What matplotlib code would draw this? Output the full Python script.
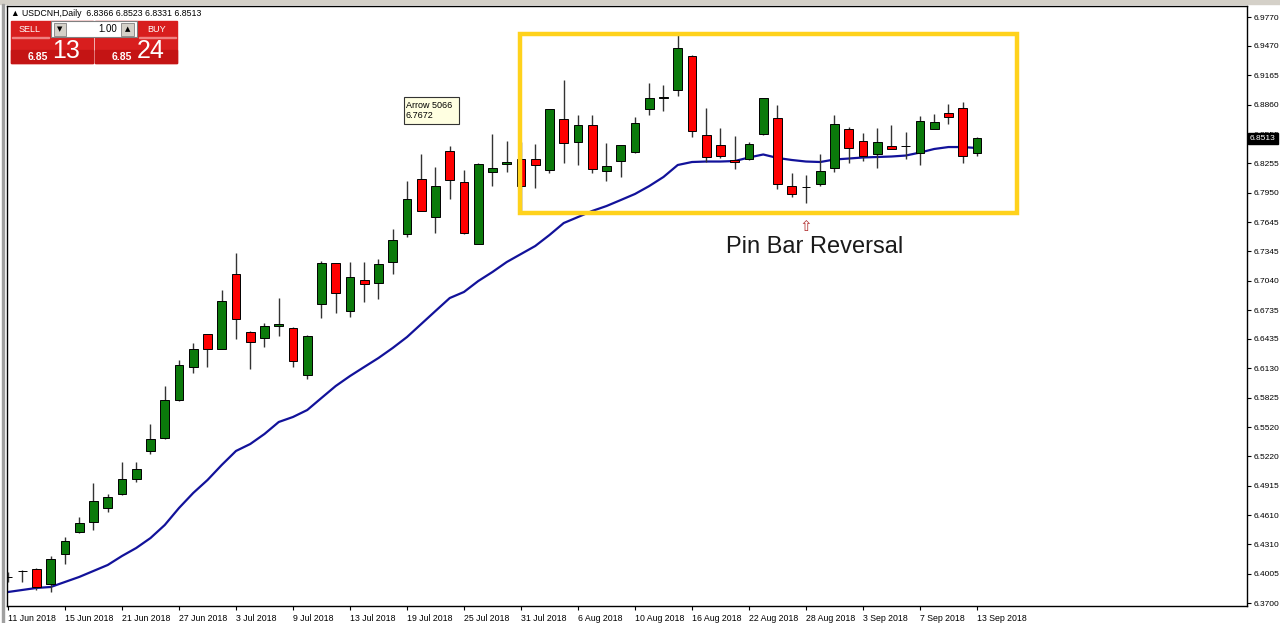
import matplotlib
matplotlib.use("Agg")
import matplotlib.pyplot as plt
import numpy as np
from matplotlib.patches import Rectangle

# ---- data (USDCNH daily, 11 Jun 2018 - 13 Sep 2018) ----
opens = [6.3970, 6.4032, 6.4052, 6.3897, 6.4208, 6.4439, 6.4536, 6.4681, 6.4832, 6.4981,
         6.5275, 6.5406, 6.5800, 6.6148, 6.6483, 6.6334, 6.7108, 6.6504, 6.6445, 6.6569,
         6.6549, 6.6065, 6.6794, 6.7219, 6.6728, 6.7043, 6.7015, 6.7235, 6.7519, 6.8092,
         6.7701, 6.8379, 6.8058, 6.7419, 6.8161, 6.8244, 6.8296, 6.8296, 6.8185, 6.8710,
         6.8478, 6.8651, 6.8178, 6.8278, 6.8375, 6.8814, 6.8934, 6.9014, 6.9366, 6.8548,
         6.8444, 6.8289, 6.8294, 6.8555, 6.8721, 6.8019, 6.8009, 6.8037, 6.8203, 6.8607,
         6.8489, 6.8351, 6.8434, 6.8431, 6.8358, 6.8607, 6.8779, 6.8824, 6.8366]
highs = [6.4021, 6.4042, 6.4063, 6.4187, 6.4387, 6.4594, 6.4940, 6.4829, 6.5164, 6.5161,
         6.5554, 6.5948, 6.6217, 6.6390, 6.6486, 6.6942, 6.7322, 6.6517, 6.6604, 6.6856,
         6.6559, 6.6476, 6.7243, 6.7224, 6.7235, 6.7235, 6.7260, 6.7571, 6.8071, 6.8354,
         6.8216, 6.8437, 6.8185, 6.8254, 6.8558, 6.8489, 6.8478, 6.8452, 6.8822, 6.9117,
         6.8755, 6.8755, 6.8462, 6.8449, 6.8731, 6.9089, 6.9066, 6.9584, 6.9376, 6.8824,
         6.8617, 6.8537, 6.8478, 6.8936, 6.8858, 6.8151, 6.8133, 6.8351, 6.8755, 6.8634,
         6.8565, 6.8617, 6.8651, 6.8582, 6.8745, 6.8762, 6.8869, 6.8886, 6.8523]
lows = [6.3918, 6.3918, 6.3835, 6.3814, 6.4104, 6.4429, 6.4456, 6.4646, 6.4819, 6.4950,
        6.5244, 6.5402, 6.5793, 6.6086, 6.6148, 6.6331, 6.6432, 6.6121, 6.6355, 6.6469,
        6.6148, 6.6017, 6.6655, 6.6707, 6.6666, 6.6821, 6.6846, 6.7105, 6.7488, 6.7761,
        6.7536, 6.7888, 6.7519, 6.7414, 6.8019, 6.8165, 6.7732, 6.7994, 6.8151, 6.8255,
        6.8237, 6.8157, 6.8071, 6.8116, 6.8358, 6.8755, 6.8796, 6.8952, 6.8524, 6.8271,
        6.8313, 6.8192, 6.8284, 6.8543, 6.7985, 6.7909, 6.7840, 6.8019, 6.8168, 6.8261,
        6.8278, 6.8203, 6.8403, 6.8299, 6.8237, 6.8605, 6.8662, 6.8261, 6.8331]
closes = [6.3970, 6.4032, 6.3866, 6.4156, 6.4342, 6.4532, 6.4757, 6.4798, 6.4981, 6.5085,
          6.5396, 6.5800, 6.6162, 6.6334, 6.6328, 6.6828, 6.6639, 6.6401, 6.6566, 6.6595,
          6.6207, 6.6466, 6.7219, 6.6914, 6.7080, 6.7004, 6.7208, 6.7460, 6.7882, 6.7764,
          6.8016, 6.8082, 6.7536, 6.8244, 6.8203, 6.8271, 6.8016, 6.8234, 6.8814, 6.8462,
          6.8651, 6.8192, 6.8227, 6.8444, 6.8675, 6.8934, 6.8934, 6.9452, 6.8589, 6.8323,
          6.8330, 6.8271, 6.8455, 6.8928, 6.8037, 6.7934, 6.8009, 6.8178, 6.8659, 6.8410,
          6.8333, 6.8478, 6.8406, 6.8431, 6.8693, 6.8686, 6.8737, 6.8330, 6.8513]
ma = [6.3814, 6.3835, 6.3856, 6.3866, 6.3918, 6.3970, 6.4032, 6.4094, 6.4187, 6.4270,
      6.4373, 6.4508, 6.4684, 6.4840, 6.4974, 6.5130, 6.5275, 6.5347, 6.5451, 6.5575,
      6.5627, 6.5699, 6.5824, 6.5948, 6.6051, 6.6145, 6.6238, 6.6342, 6.6455, 6.6590,
      6.6725, 6.6859, 6.6922, 6.7035, 6.7129, 6.7232, 6.7315, 6.7398, 6.7512, 6.7636,
      6.7698, 6.7761, 6.7812, 6.7874, 6.7937, 6.8019, 6.8113, 6.8237, 6.8268, 6.8273,
      6.8273, 6.8278, 6.8315, 6.8346, 6.8310, 6.8289, 6.8273, 6.8268, 6.8294, 6.8304,
      6.8315, 6.8320, 6.8325, 6.8335, 6.8366, 6.8403, 6.8423, 6.8423, 6.8413]

date_labels = ["11 Jun 2018", "15 Jun 2018", "21 Jun 2018", "27 Jun 2018", "3 Jul 2018",
               "9 Jul 2018", "13 Jul 2018", "19 Jul 2018", "25 Jul 2018", "31 Jul 2018",
               "6 Aug 2018", "10 Aug 2018", "16 Aug 2018", "22 Aug 2018", "28 Aug 2018",
               "3 Sep 2018", "7 Sep 2018", "13 Sep 2018"]
price_ticks = [6.9770, 6.9470, 6.9165, 6.8860, 6.8555, 6.8255, 6.7950, 6.7645, 6.7345,
               6.7040, 6.6735, 6.6435, 6.6130, 6.5825, 6.5520, 6.5220, 6.4915, 6.4610,
               6.4310, 6.4005, 6.3700]
last_price = 6.8513
arrow_bar, arrow_price = 56, 6.7672
box_bars = (35.93, 70.8)
box_prices = (6.7735, 6.9599)

BULL = "#0B7A0B"
BEAR = "#FF0000"
MA_COL = "#12129A"
FONT = "Liberation Sans"
SMALL = 6.0

fig = plt.figure(figsize=(12.8, 6.23), dpi=100)
ax = fig.add_axes([7 / 1280, 17 / 623, 1240 / 1280, 600 / 623])

o = np.array(opens); h = np.array(highs); l = np.array(lows); c = np.array(closes)
x = np.arange(len(o))

ax.plot(x, ma, color=MA_COL, lw=1.6, zorder=2)
ax.vlines(x, l, h, color="#333333", lw=1.0, zorder=3)
body_lo = np.minimum(o, c)
body_h = np.maximum(np.abs(c - o), 0.0003)
cols = [BULL if cc >= oo else BEAR for oo, cc in zip(o, c)]
ax.bar(x, body_h, bottom=body_lo, width=0.62, color=cols, edgecolor="black",
       linewidth=0.7, zorder=4)

ax.set_xlim(-0.07, 86.95)
ax.set_ylim(6.3669, 6.9884)

ax.yaxis.tick_right()
ax.set_yticks(price_ticks)
ax.set_yticklabels([f"{p:.4f}" for p in price_ticks], fontsize=SMALL, family=FONT)
ax.set_xticks(np.arange(0, len(o), 4))
ax.set_xticklabels(date_labels, fontsize=SMALL + 0.3, family=FONT, ha="left")
ax.tick_params(axis="y", length=3, pad=2, width=0.8)
ax.tick_params(axis="x", length=3, pad=2.5, width=0.8)
for sp in ax.spines.values():
    sp.set_linewidth(1.0)

# yellow highlight box
ax.add_patch(Rectangle((box_bars[0], box_prices[0]), box_bars[1] - box_bars[0],
                       box_prices[1] - box_prices[0], fill=False,
                       edgecolor="#FFD21C", lw=3.2, zorder=5))

# arrow marker + label
ax.text(arrow_bar, arrow_price + 0.0008, "\u21e7", color="#B03030", fontsize=11,
        ha="center", va="top", family="DejaVu Sans", zorder=6)
ax.text(arrow_bar + 0.6, 6.7385, "Pin Bar Reversal", fontsize=17,
        family=FONT, ha="center", va="center", color="#1a1a1a")

# current price tag
ax.text(1.0025, last_price, f"{last_price:.4f}", transform=ax.get_yaxis_transform(),
        fontsize=SMALL, family=FONT, color="white", va="center", ha="left",
        bbox=dict(boxstyle="square,pad=0.2", fc="black", ec="black"), zorder=7)

# ---- terminal decorations in pixel space ----
ui = fig.add_axes([0, 0, 1, 1], zorder=10)
ui.set_xlim(0, 1280); ui.set_ylim(623, 0); ui.axis("off")
ui.patch.set_visible(False)
ui.add_patch(Rectangle((0, 0), 1280, 4, color="#D4D0C8"))
ui.add_patch(Rectangle((2, 4), 2, 619, color="#A0A0A0"))

ui.text(11, 13, "\u25b2 USDCNH,Daily  6.8366 6.8523 6.8331 6.8513", fontsize=6.3,
        family=FONT, va="center", ha="left")

for x0 in (11, 95):
    ui.add_patch(Rectangle((x0, 21), 82, 42, color="#D81E1E"))
    ui.add_patch(Rectangle((x0, 50), 82, 13, color="#C41414"))
ui.add_patch(Rectangle((12, 37), 37, 0.8, color="#F08080"))
ui.add_patch(Rectangle((139, 37), 37, 0.8, color="#F08080"))
ui.text(30, 29.5, "SELL", color="white", fontsize=6.5, family=FONT, ha="center", va="center")
ui.text(157, 29.5, "BUY", color="white", fontsize=6.5, family=FONT, ha="center", va="center")
ui.add_patch(Rectangle((51, 21), 86, 16, fc="white", ec="#808080", lw=0.8))
ui.add_patch(Rectangle((54, 22.5), 12, 13, fc="#D4D0C8", ec="#808080", lw=0.6))
ui.add_patch(Rectangle((121, 22.5), 13, 13, fc="#D4D0C8", ec="#808080", lw=0.6))
ui.text(60, 29, "\u25bc", fontsize=5, family="DejaVu Sans", ha="center", va="center")
ui.text(127.5, 29, "\u25b2", fontsize=5, family="DejaVu Sans", ha="center", va="center")
ui.text(117, 29.5, "1.00", fontsize=7, family=FONT, ha="right", va="center")
ui.text(48, 57.5, "6.85", color="white", fontsize=7.5, family=FONT, ha="right", va="center",
        fontweight="bold")
ui.text(66, 50.5, "13", color="white", fontsize=18, family=FONT, ha="center", va="center")
ui.text(132, 57.5, "6.85", color="white", fontsize=7.5, family=FONT, ha="right", va="center",
        fontweight="bold")
ui.text(151, 50.5, "24", color="white", fontsize=18, family=FONT, ha="center", va="center")

# tooltip
ui.add_patch(Rectangle((404, 97), 55, 27, fc="#FFFFE1", ec="#333333", lw=0.8))
ui.text(406, 110.5, "Arrow 5066\n6.7672", fontsize=6.5, family=FONT, ha="left",
        va="center", linespacing=1.1)

fig.savefig("out.png", dpi=100, facecolor="white")
